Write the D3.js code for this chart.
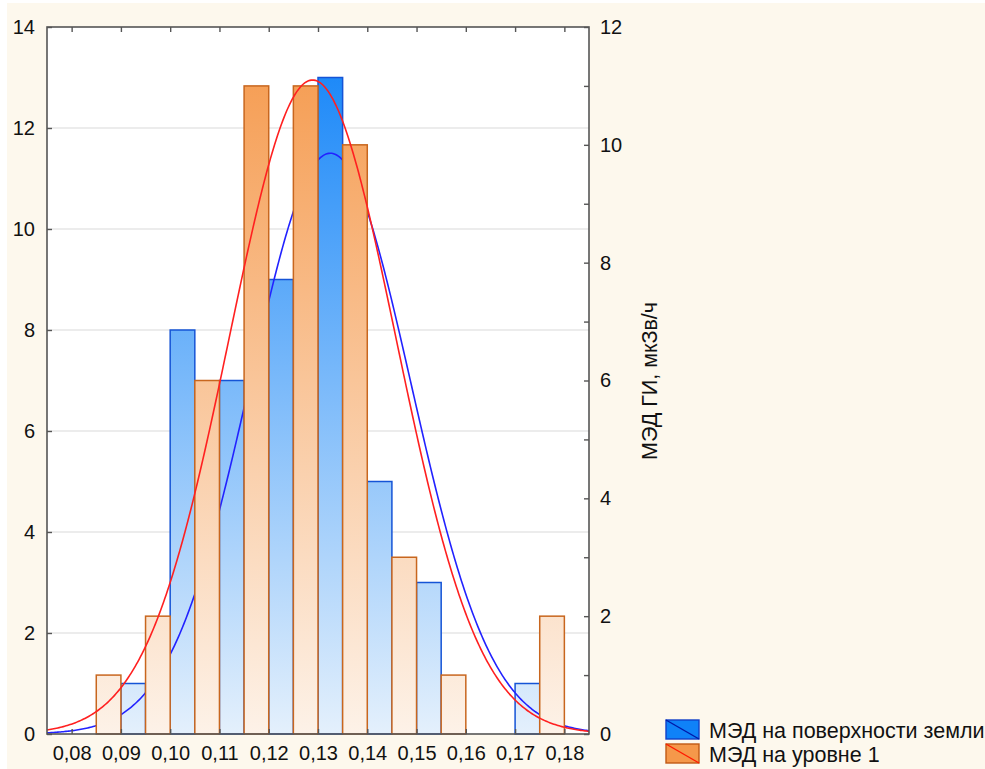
<!DOCTYPE html>
<html><head><meta charset="utf-8">
<script src="https://cdn.jsdelivr.net/npm/d3@7"></script>
<style>
html,body{margin:0;padding:0;background:#fff;}
svg{display:block;font-family:"Liberation Sans",Arial,sans-serif;}
</style></head>
<body>
<svg id="chart" width="985" height="769"></svg>
<script>
// ---- data ----
const binCenters = [0.08,0.09,0.10,0.11,0.12,0.13,0.14,0.15,0.16,0.17,0.18];
const xTickLabels = ["0,08","0,09","0,10","0,11","0,12","0,13","0,14","0,15","0,16","0,17","0,18"];
const surfaceCounts = [0,1,8,7,9,13,5,3,0,1,0];     // blue, left axis
const level1Counts  = [0,1,2,6,11,11,10,3,1,0,2];   // orange, right axis
const leftTicks = [0,2,4,6,8,10,12,14];
const rightTicks = [0,2,4,6,8,10,12];
const rightMinorTicks = [1,3,5,7,9,11];
// fitted normal curves (mean, sd, peak height in own axis units)
const surfaceFit = {mean:0.1325, sd:0.0163, peak:11.5};
const level1Fit  = {mean:0.1289, sd:0.0169, peak:11.1};
const seriesNames = ["МЭД на поверхности земли","МЭД на уровне 1"];
const rightTitle = "МЭД ГИ, мкЗв/ч";

// ---- layout ----
const svg = d3.select("#chart");
const L=47, R=589, T=27, B=734;
svg.append("rect").attr("x",7).attr("y",3).attr("width",978).attr("height",766).attr("fill","#fdf8ed");
svg.append("rect").attr("x",L).attr("y",T).attr("width",R-L).attr("height",B-T).attr("fill","#ffffff");

const x = d3.scaleLinear().domain([0.075,0.185]).range([L,R]);
const yL = d3.scaleLinear().domain([0,14]).range([B,T]);
const yR = d3.scaleLinear().domain([0,12]).range([B,T]);

const defs = svg.append("defs");
function grad(id, top, bottom){
  const g = defs.append("linearGradient").attr("id",id).attr("gradientUnits","userSpaceOnUse")
    .attr("x1",0).attr("x2",0).attr("y1",T).attr("y2",B);
  g.append("stop").attr("offset","0").attr("stop-color",top);
  g.append("stop").attr("offset","1").attr("stop-color",bottom);
}
grad("gBlue","#0f82f8","#e4f0fc");
grad("gOrange","#f5984a","#fdf2e8");

// gridlines
svg.append("g").selectAll("line").data(leftTicks.filter(d=>d>0&&d<14)).join("line")
  .attr("x1",L).attr("x2",R).attr("y1",d=>yL(d)).attr("y2",d=>yL(d))
  .attr("stroke","#d9d9d9").attr("stroke-width",1.2);

const hw = 0.005;
// blue bars
svg.append("g").selectAll("rect").data(binCenters.map((c,i)=>({c,v:surfaceCounts[i]})).filter(d=>d.v>0)).join("rect")
  .attr("x",d=>x(d.c)).attr("width",d=>x(d.c+hw)-x(d.c))
  .attr("y",d=>yL(d.v)).attr("height",d=>yL(0)-yL(d.v))
  .attr("fill","url(#gBlue)").attr("stroke","#1554d6").attr("stroke-width",1.5);

function curve(fit, yScale){
  const pts = d3.range(0,401).map(i=>{
    const xv = 0.075 + i*(0.11/400);
    const z = (xv-fit.mean)/fit.sd;
    return [xv, fit.peak*Math.exp(-0.5*z*z)];
  });
  return d3.line().x(d=>x(d[0])).y(d=>yScale(d[1])).curve(d3.curveLinear)(pts);
}
svg.append("path").attr("d",curve(surfaceFit,yL)).attr("fill","none").attr("stroke","#2222ff").attr("stroke-width",1.6);

// orange bars
svg.append("g").selectAll("rect").data(binCenters.map((c,i)=>({c,v:level1Counts[i]})).filter(d=>d.v>0)).join("rect")
  .attr("x",d=>x(d.c-hw)).attr("width",d=>x(d.c)-x(d.c-hw))
  .attr("y",d=>yR(d.v)).attr("height",d=>yR(0)-yR(d.v))
  .attr("fill","url(#gOrange)").attr("stroke","#c8661e").attr("stroke-width",1.5);

svg.append("path").attr("d",curve(level1Fit,yR)).attr("fill","none").attr("stroke","#ff2020").attr("stroke-width",1.6);

// frame
const axCol="#555555";
svg.append("rect").attr("x",L).attr("y",T).attr("width",R-L).attr("height",B-T)
  .attr("fill","none").attr("stroke",axCol).attr("stroke-width",1.6);

// axes
const axB = svg.append("g").attr("transform",`translate(0,${B})`)
  .call(d3.axisBottom(x).tickValues(binCenters).tickSize(-5).tickPadding(12).tickFormat((d,i)=>xTickLabels[i]));
const axT = svg.append("g").attr("transform",`translate(0,${T})`)
  .call(d3.axisTop(x).tickValues(binCenters).tickSize(-5).tickFormat(""));
const axLft = svg.append("g").attr("transform",`translate(${L},0)`)
  .call(d3.axisLeft(yL).tickValues(leftTicks).tickSize(-5).tickPadding(12).tickFormat(d3.format("d")));
const axRt = svg.append("g").attr("transform",`translate(${R},0)`)
  .call(d3.axisRight(yR).tickValues(rightTicks).tickSize(-5).tickPadding(11).tickFormat(d3.format("d")));
const axRtMinor = svg.append("g").attr("transform",`translate(${R},0)`)
  .call(d3.axisRight(yR).tickValues(rightMinorTicks).tickSize(-5).tickFormat(""));
[axB,axT,axLft,axRt,axRtMinor].forEach(a=>{
  a.select(".domain").remove();
  a.selectAll(".tick line").attr("stroke",axCol).attr("stroke-width",1.4);
  a.selectAll(".tick text").attr("fill","#111").style("font-size","20px").style("font-family","'Liberation Sans',Arial,sans-serif");
});

// right title
svg.append("text").attr("transform","translate(657,381) rotate(-90)")
  .attr("text-anchor","middle").attr("fill","#111").style("font-size","21.5px").text(rightTitle);

// legend
const lg = svg.append("g");
const items = [
  {y:720, fill:"#0f82f8", stroke:"#1040c8", line:"#0018a8", name:seriesNames[0]},
  {y:744, fill:"#f5984a", stroke:"#c05a14", line:"#ff1a00", name:seriesNames[1]}
];
items.forEach(it=>{
  lg.append("rect").attr("x",666).attr("y",it.y).attr("width",33).attr("height",19)
    .attr("fill",it.fill).attr("stroke",it.stroke).attr("stroke-width",1.4);
  lg.append("line").attr("x1",666).attr("y1",it.y).attr("x2",699).attr("y2",it.y+19)
    .attr("stroke",it.line).attr("stroke-width",1.4);
  lg.append("text").attr("x",709).attr("y",it.y+10).attr("dy","0.35em")
    .attr("fill","#111").style("font-size","21.5px").text(it.name);
});
</script>
</body></html>
